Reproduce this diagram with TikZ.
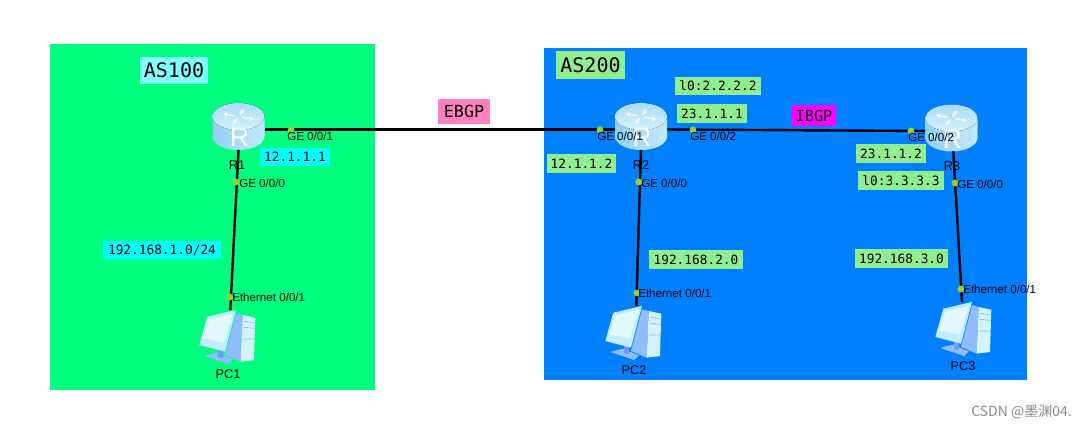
\documentclass[tikz,border=0pt]{standalone}
\usepackage{fontspec}
\setmainfont{Liberation Sans}
\newfontfamily\tagfont{DejaVu Sans Mono}
\newfontfamily\cjk{Noto Sans CJK SC}
\usetikzlibrary{arrows.meta}
\definecolor{asgreen}{HTML}{00FF7F}
\definecolor{asblue}{HTML}{0080FF}
\definecolor{tagaqua}{HTML}{00FFFF}
\definecolor{tagpale}{HTML}{80FFFF}
\definecolor{tagmint}{HTML}{90EE90}
\definecolor{tagpink}{HTML}{FF80C0}
\definecolor{tagmagenta}{HTML}{FF00FF}
\definecolor{portgreen}{HTML}{9CCF2E}
\definecolor{routerside}{HTML}{8FCFF5}
\definecolor{routermid}{HTML}{A6DDFA}
\definecolor{routerlight}{HTML}{C4EBFC}
\definecolor{routertop}{HTML}{D4F1FE}
\definecolor{pcshade}{HTML}{8FBDFF}
\definecolor{pcframe}{HTML}{C2ECFF}
\definecolor{pcscreen}{HTML}{E4F8FF}
\definecolor{pctower}{HTML}{D2F3FF}
\tikzset{
    link/.style={line width=1.8pt, black},
    port/.style={circle, fill=portgreen, inner sep=0pt, minimum size=5.2pt},
    portlabel/.style={anchor=west, inner sep=0pt, font=\fontsize{8.7}{10}\selectfont},
    hostlabel/.style={inner sep=0pt, font=\fontsize{9.5}{11}\selectfont},
    tag/.style n args={3}{inner sep=0pt, fill=#3, minimum width=#1*0.75pt, minimum height=#2*0.75pt, font=\tagfont\fontsize{9.6}{11}\selectfont},
    pics/routericon/.style={code={
        \draw[draw=none, left color=routerside, middle color=routermid, right color=routerlight]
            (-26,-10) -- (-26,10) arc[start angle=180, end angle=0, x radius=26, y radius=13.5] -- (26,-10) -- cycle;
        \fill[top color=routermid, bottom color=routertop] (0,-10) ellipse[x radius=26, y radius=13.5];
        \foreach \a in {20,110,200,290} {
            \draw[white, line width=1.2pt, -{Latex[length=3.5pt,width=4pt]}, opacity=0.85]
                ({4*cos(\a)},{-10+2*sin(\a)}) -- ({17*cos(\a)},{-10+8.5*sin(\a)});
        }
        \node[white, inner sep=0pt, font=\fontsize{20}{22}\selectfont] at (1,11) {R};
        \node[minimum width=39pt, minimum height=30pt, inner sep=0pt] (-box) at (0,3) {};
    }},
    pics/pcicon/.style={code={
        \fill[pcshade] (9,-23.7) -- (15.7,-22) -- (13.7,24.7) -- (-2,18) -- cycle;
        \fill[pctower] (15.7,-22) -- (28.3,-19.3) -- (27,23) -- (13.7,24.7) -- cycle;
        \draw[pcshade, line width=0.5pt] (17,-16) -- (27,-14) (16.5,-10) -- (27.5,-8.5) (16,2) -- (27,2);
        \fill[pcshade] (-22.7,19) -- (-10.3,15.7) -- (5.7,22.3) -- (1.3,27) -- cycle;
        \fill[pcshade!80!blue] (-9,12) -- (-4,12) -- (-4,21) -- (-9,20) -- cycle;
        \fill[pcframe] (-19.7,-20.3) -- (9,-27) -- (-2,14.7) -- (-27.7,8) -- cycle;
        \fill[pcscreen] (-17.7,-17.7) -- (5.7,-23) -- (-3,5.7) -- (-23.7,1.3) -- cycle;
        \node[minimum width=42pt, minimum height=40pt, inner sep=0pt] (-box) at (0,0) {};
    }}
}
\begin{document}
\begin{tikzpicture}[x=0.75pt, y=-0.75pt]
    \useasboundingbox (0,0) rectangle (1090,428);
    \fill[asgreen] (50,44) rectangle (375,390);
    \fill[asblue] (544,48) rectangle (1027,380);

    \pic (R1) at (238.5,126.5) {routericon};
    \pic (R2) at (641,126.5) {routericon};
    \pic (R3) at (951.5,128) {routericon};
    \pic (PC1) at (227,337) {pcicon};
    \pic (PC2) at (633,333) {pcicon};
    \pic (PC3) at (963,329) {pcicon};

    \draw[link] (R1-box.east) -- (R2-box.west);
    \draw[link] (R2-box.east) -- (R3-box.west);
    \draw[link] (R1-box.south) -- (PC1-box.83);
    \draw[link] (R2-box.south) -- (PC2-box.83);
    \draw[link] (R3-box.-85) -- (PC3-box.92);

    \node[port] (r1g1) at (291,130) {};
    \node[port] (r1g0) at (236,182) {};
    \node[port] (pc1e) at (230,297) {};
    \node[port] (r2g1) at (600,130) {};
    \node[port] (r2g2) at (693,130) {};
    \node[port] (r2g0) at (639,182) {};
    \node[port] (pc2e) at (637,293) {};
    \node[port] (r3g2) at (911,131) {};
    \node[port] (r3g0) at (955,183) {};
    \node[port] (pc3e) at (961,289) {};

    \node[portlabel] (l1) at (287,136) {GE 0/0/1};
    \node[portlabel] (l2) at (239,183) {GE 0/0/0};
    \node[portlabel] (l3) at (232,297) {Ethernet 0/0/1};
    \node[portlabel] (l4) at (597,136) {GE 0/0/1};
    \node[portlabel] (l5) at (690,136) {GE 0/0/2};
    \node[portlabel] (l6) at (641,183) {GE 0/0/0};
    \node[portlabel] (l7) at (638,293) {Ethernet 0/0/1};
    \node[portlabel] (l8) at (908,137) {GE 0/0/2};
    \node[portlabel] (l9) at (957,184) {GE 0/0/0};
    \node[portlabel] (l10) at (963,289) {Ethernet 0/0/1};

    \node[hostlabel] (nr1) at (237,165) {R1};
    \node[hostlabel] (nr2) at (641,165) {R2};
    \node[hostlabel] (nr3) at (952,166) {R3};
    \node[hostlabel] (npc1) at (228,374) {PC1};
    \node[hostlabel] (npc2) at (634,370) {PC2};
    \node[hostlabel] (npc3) at (963,366) {PC3};

    \node[tag={68}{27}{tagpale}, font=\tagfont\fontsize{15}{17}\selectfont] (as100) at (174,70.5) {AS100};
    \node[tag={69}{28}{tagmint}, font=\tagfont\fontsize{15}{17}\selectfont] (as200) at (590.5,65) {AS200};
    \node[tag={52}{25}{tagpink}, font=\tagfont\fontsize{12.5}{14}\selectfont] (ebgp) at (464,111.5) {EBGP};
    \node[tag={44}{21}{tagmagenta}, font=\tagfont\fontsize{11.5}{13}\selectfont] (ibgp) at (814,115.5) {IBGP};
    \node[tag={70}{18}{tagaqua}] (a1) at (295,157) {12.1.1.1};
    \node[tag={118}{18}{tagaqua}] (n1) at (162,250) {192.168.1.0/24};
    \node[tag={69}{19}{tagmint}] (a2) at (581.5,163.5) {12.1.1.2};
    \node[tag={86}{18}{tagmint}] (lo2) at (718,86) {l0:2.2.2.2};
    \node[tag={70}{19}{tagmint}] (a3) at (712,113.5) {23.1.1.1};
    \node[tag={70}{19}{tagmint}] (a4) at (891,153.5) {23.1.1.2};
    \node[tag={86}{19}{tagmint}] (lo3) at (901,180.5) {l0:3.3.3.3};
    \node[tag={94}{19}{tagmint}] (n2) at (696,259.5) {192.168.2.0};
    \node[tag={93}{19}{tagmint}] (n3) at (901.5,258.5) {192.168.3.0};

    \node[text=black!45, inner sep=0pt, font=\cjk\fontsize{10.5}{12}\selectfont] (mark) at (1021.5,412) {CSDN @墨渊04.};
\end{tikzpicture}
\end{document}
